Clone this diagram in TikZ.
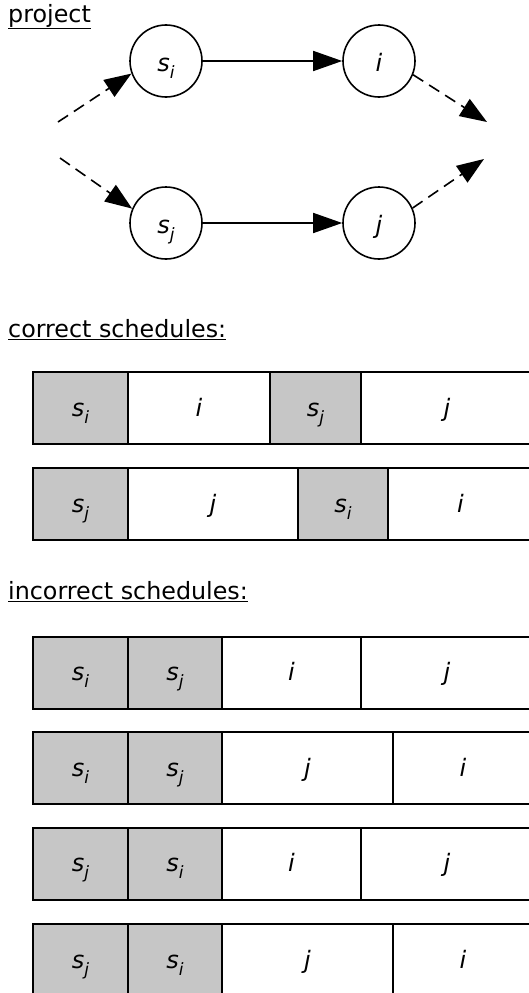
\documentclass[tikz,border=0pt]{standalone}
\usepackage{fontspec}
\setmainfont{DejaVu Sans}
\usetikzlibrary{arrows.meta}
\definecolor{shade}{HTML}{C6C6C6}
\newcommand\lbl[2]{{\itshape #1\raisebox{-0.3em}{\fontsize{17}{17}\selectfont #2}}}
\tikzset{
  big/.style={font=\fontsize{23.8}{26}\selectfont},
  lab/.style={font=\fontsize{24}{26}\selectfont},
  circ/.style={circle, draw, line width=1.6pt, minimum size=72pt, inner sep=0pt, lab, text height=22pt, text depth=2pt},
  task/.style={draw, line width=2pt, inner sep=0pt, minimum height=72pt, lab, text height=20pt, text depth=4pt},
  startbox/.style={task, fill=shade},
  title/.style={anchor=base west, inner sep=0pt, big},
  solidarrow/.style={line width=1.6pt, -{Triangle[length=29pt,width=20pt]}},
  dasharrow/.style={line width=1.6pt, dash pattern=on 12pt off 7pt, -{Triangle[length=27pt,width=20pt]}},
}
\begin{document}
\begin{tikzpicture}[x=1pt,y=-1pt]
\path[use as bounding box] (0,0) rectangle (529,993);
\clip (0,0) rectangle (529,993);

% titles
\node[title] (tproj) at (8,22) {\underline{project}};
\node[title] (tcorr) at (8,337) {\underline{correct schedules:}};
\node[title] (tinc) at (8,599) {\underline{incorrect schedules:}};

% project graph
\node[circ] (si) at (166,61) {\lbl{s}{i}};
\node[circ] (i) at (379,61) {\itshape i};
\node[circ] (sj) at (166,223) {\lbl{s}{j}};
\node[circ] (j) at (379,223) {\itshape j};
\coordinate (in1) at (58,122);
\coordinate (in2) at (60,158);
\coordinate (out1) at (487,122);
\coordinate (out2) at (484,159);
\draw[solidarrow] (si) -- (i);
\draw[solidarrow] (sj) -- (j);
\draw[dasharrow] (in1) -- (si.200);
\draw[dasharrow] (in2) -- (sj.157);
\draw[dasharrow] (i.338) -- (out1);
\draw[dasharrow] (j.24) -- (out2);

% correct schedules
\node[startbox, minimum width=95pt] (c1a) at (80.5,408) {\lbl{s}{i}};
\node[task, minimum width=142pt] (c1b) at (199,408) {\itshape i};
\node[startbox, minimum width=91pt] (c1c) at (315.5,408) {\lbl{s}{j}};
\node[task, minimum width=172pt] (c1d) at (447,408) {\itshape j};

\node[startbox, minimum width=95pt] (c2a) at (80.5,504) {\lbl{s}{j}};
\node[task, minimum width=170pt] (c2b) at (213,504) {\itshape j};
\node[startbox, minimum width=90pt] (c2c) at (343,504) {\lbl{s}{i}};
\node[task, minimum width=145pt] (c2d) at (460.5,504) {\itshape i};

% incorrect schedules
\node[startbox, minimum width=95pt] (w1a) at (80.5,672.5) {\lbl{s}{i}};
\node[startbox, minimum width=94pt] (w1b) at (175,672.5) {\lbl{s}{j}};
\node[task, minimum width=139pt] (w1c) at (291.5,672.5) {\itshape i};
\node[task, minimum width=172pt] (w1d) at (447,672.5) {\itshape j};

\node[startbox, minimum width=95pt] (w2a) at (80.5,768) {\lbl{s}{i}};
\node[startbox, minimum width=94pt] (w2b) at (175,768) {\lbl{s}{j}};
\node[task, minimum width=171pt] (w2c) at (307.5,768) {\itshape j};
\node[task, minimum width=140pt] (w2d) at (463,768) {\itshape i};

\node[startbox, minimum width=95pt] (w3a) at (80.5,863.5) {\lbl{s}{j}};
\node[startbox, minimum width=94pt] (w3b) at (175,863.5) {\lbl{s}{i}};
\node[task, minimum width=139pt] (w3c) at (291.5,863.5) {\itshape i};
\node[task, minimum width=172pt] (w3d) at (447,863.5) {\itshape j};

\node[startbox, minimum width=95pt] (w4a) at (80.5,960) {\lbl{s}{j}};
\node[startbox, minimum width=94pt] (w4b) at (175,960) {\lbl{s}{i}};
\node[task, minimum width=171pt] (w4c) at (307.5,960) {\itshape j};
\node[task, minimum width=140pt] (w4d) at (463,960) {\itshape i};
\end{tikzpicture}
\end{document}
